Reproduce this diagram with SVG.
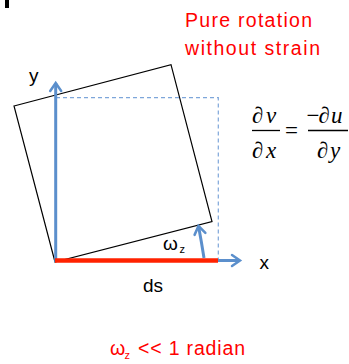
<svg xmlns="http://www.w3.org/2000/svg" width="349" height="364" viewBox="0 0 349 364">
<style>
.lbl{font-family:"Liberation Sans",Arial,sans-serif;font-size:19px;fill:#000}
.red{font-family:"Liberation Sans",Arial,sans-serif;font-size:19.5px;fill:#FF0000}
.math{font-family:"Liberation Serif","Times New Roman",serif;font-size:23px;fill:#000}
.it{font-style:italic}
.ax{stroke:#5B8FCC;stroke-width:3;fill:none}
</style>
<defs>
<marker id="arr" markerUnits="userSpaceOnUse" markerWidth="20" markerHeight="20" refX="0" refY="0" viewBox="-12 -10 16 20" orient="auto" overflow="visible">
<path d="M-8,-5.5 L0,0 L-8,5.5" fill="none" stroke="#5B8FCC" stroke-width="2.5" stroke-linejoin="miter" stroke-linecap="round"/>
</marker>
</defs>
<rect x="5" y="0" width="4" height="8" fill="#000"/>
<g id="title">
<text class="red" x="185" y="27" textLength="127">Pure rotation</text>
<text class="red" x="185" y="55" textLength="135">without strain</text>
</g>
<g id="square">
<polygon points="14,106 171,64.7 212,221.5 55,262" fill="none" stroke="#000" stroke-width="1.2"/>
</g>
<g id="original">
<path d="M56,97.7 H218.3 V260" fill="none" stroke="#7EA6DA" stroke-width="1.2" stroke-dasharray="4,3"/>
</g>
<g id="connectors">
<line class="ax" x1="55.7" y1="262" x2="55.7" y2="83" marker-end="url(#arr)"/>
<line class="ax" x1="218" y1="260.5" x2="240" y2="260.5" marker-end="url(#arr)"/>
<path class="ax" d="M204,258 Q201.5,242 198.5,226" stroke-width="2.5" marker-end="url(#arr)"/>
</g>
<g id="ds-segment">
<line x1="55" y1="260.5" x2="218" y2="260.5" stroke="#FF2200" stroke-width="4.3"/>
</g>
<g id="labels">
<text class="lbl" x="29" y="82">y</text>
<text class="lbl" x="143" y="292">ds</text>
<text class="lbl" x="163" y="249.5">ω<tspan x="179.5" y="253" font-size="11">z</tspan></text>
<text class="lbl" x="259.5" y="269">x</text>
</g>
<g id="equation">
<text class="math" x="252" y="123">∂</text>
<text class="math it" x="266" y="123">v</text>
<line x1="252" y1="130.5" x2="280" y2="130.5" stroke="#000" stroke-width="1.3"/>
<text class="math" x="252" y="158">∂</text>
<text class="math it" x="266" y="158">x</text>
<text class="math" x="285" y="138" font-size="25">=</text>
<text class="math" x="306.5" y="123" font-size="17">−</text>
<text class="math" x="318.5" y="123">∂</text>
<text class="math it" x="331" y="123">u</text>
<line x1="308" y1="130.5" x2="348" y2="130.5" stroke="#000" stroke-width="1.3"/>
<text class="math" x="317" y="158">∂</text>
<text class="math it" x="330" y="158">y</text>
</g>
<g id="note">
<text class="red" x="110" y="355">ω<tspan x="124.5" y="359" font-size="11">z</tspan><tspan x="138" y="355" textLength="107">&lt;&lt; 1 radian</tspan></text>
</g>
</svg>
